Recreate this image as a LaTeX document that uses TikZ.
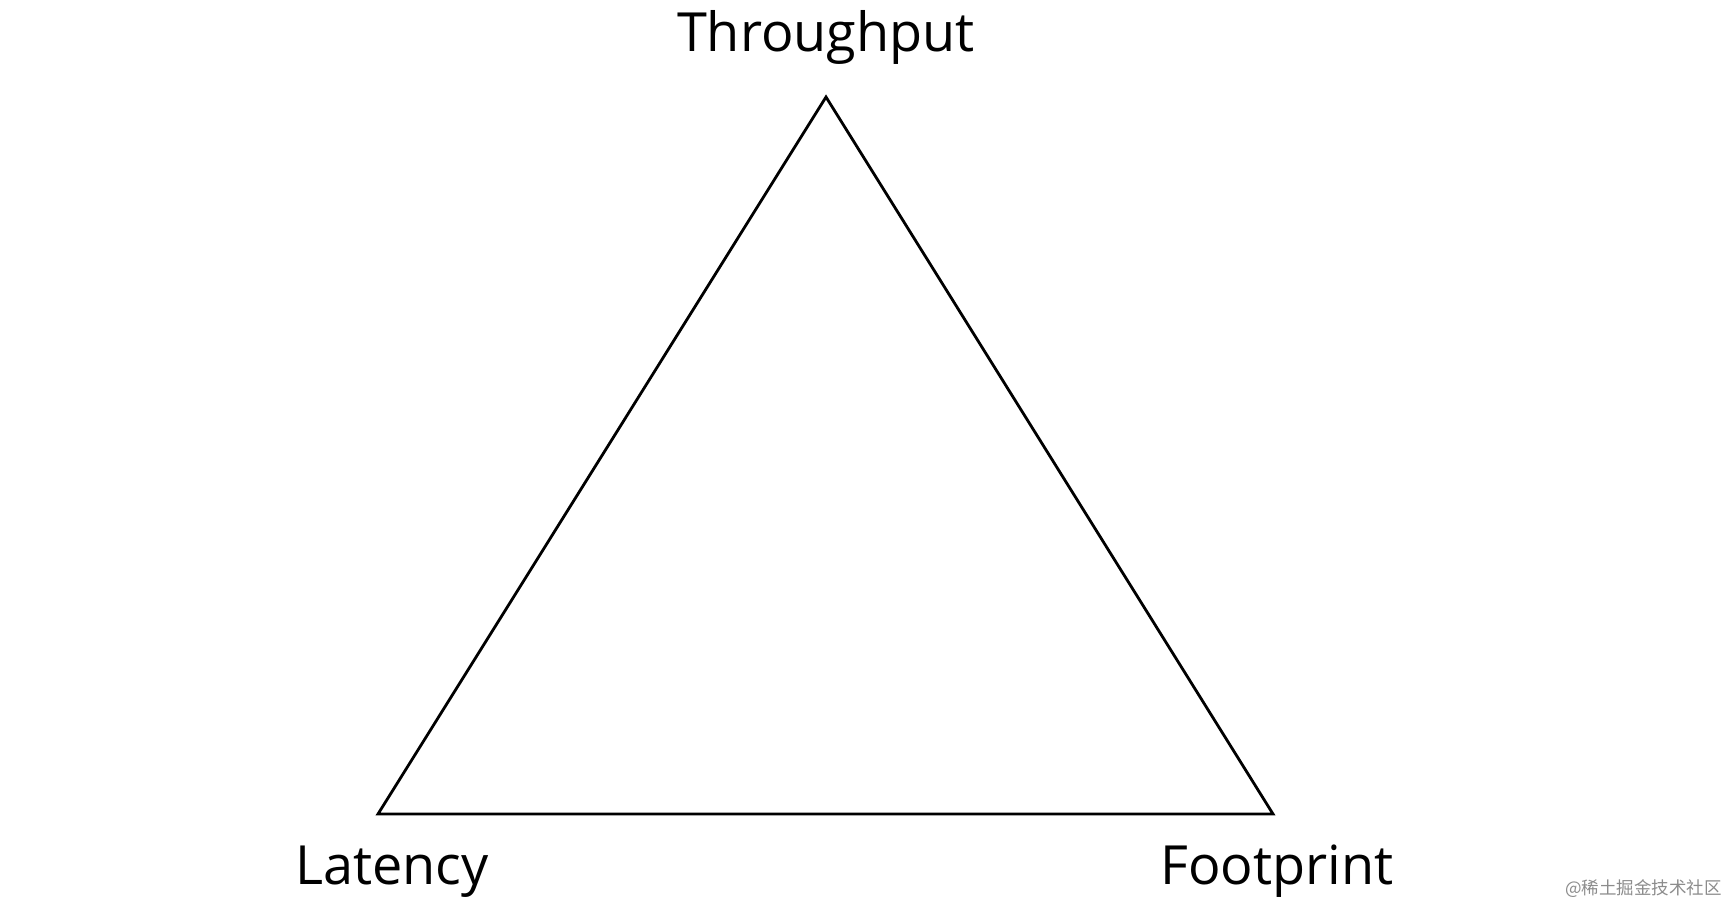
\documentclass[tikz,border=0pt]{standalone}
\usepackage{fontspec}
\setmainfont{Open Sans}
\newfontfamily\cjkfont{Noto Sans CJK SC}
\usetikzlibrary{positioning}

\tikzset{
  cornerlabel/.style={anchor=base,inner sep=0pt,font=\fontsize{54}{60}\selectfont},
  side/.style={line width=2.8pt,line join=miter}
}

\begin{document}
\begin{tikzpicture}[x=1pt,y=-1pt]
  \useasboundingbox (0,0) rectangle (1728,904);
  \fill[white] (0,0) rectangle (1728,904);

  % corners of the triangle
  \coordinate (top) at (826,97);
  \coordinate (left) at (378,814);
  \coordinate (right) at (1273,814);
  \draw[side] (top) -- (left) -- (right) -- cycle;

  \node[cornerlabel] (throughput) at (826,52) {Throughput};
  \node[cornerlabel] (latency) at (392,884) {Latency};
  \node[cornerlabel] (footprint) at (1277,884) {Footprint};

  \node[anchor=base east,inner sep=0pt,text=black!45,font=\cjkfont\fontsize{17.5}{20}\selectfont] (mark) at (1722,894) {@稀土掘金技术社区};
\end{tikzpicture}
\end{document}
